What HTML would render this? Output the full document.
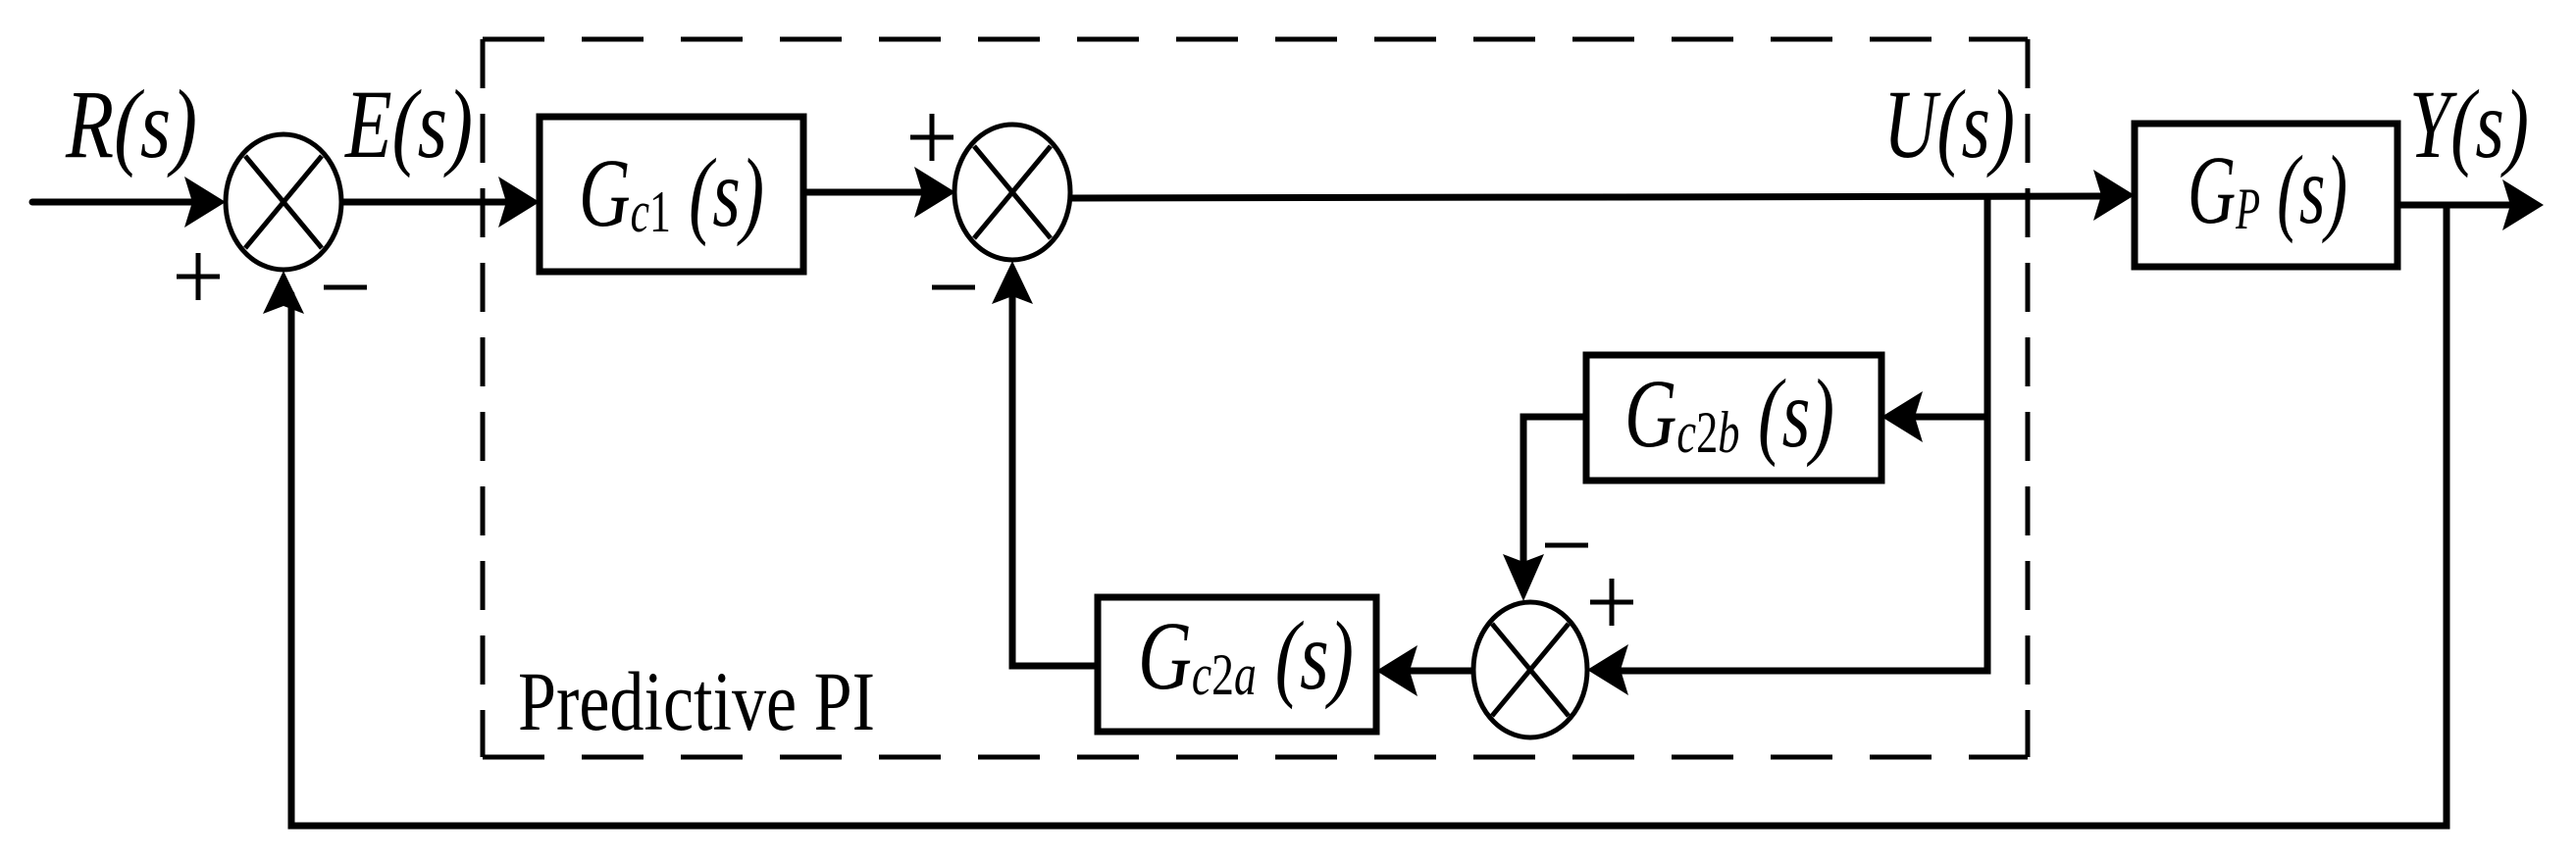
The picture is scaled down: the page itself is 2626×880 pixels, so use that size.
<!DOCTYPE html>
<html><head><meta charset="utf-8"><style>
html,body{margin:0;padding:0;background:#fff;}
svg{display:block;}
text{font-family:"Liberation Serif",serif;}
</style></head><body>
<svg width="2626" height="880" viewBox="0 0 2626 880" xmlns="http://www.w3.org/2000/svg">
<rect width="2626" height="880" fill="#fff"/>
<!-- dashed box -->
<g stroke="#000" stroke-width="5" fill="none">
<line x1="492" y1="40" x2="2067" y2="40" stroke-dasharray="63 38"/>
<line x1="492" y1="772" x2="2067" y2="772" stroke-dasharray="63 38"/>
<line x1="492" y1="40" x2="492" y2="772" stroke-dasharray="50 26"/>
<line x1="2067" y1="40" x2="2067" y2="772" stroke-dasharray="50 26"/>
</g>
<!-- lines -->
<g stroke="#000" stroke-width="7" fill="none" stroke-linecap="round" stroke-linejoin="miter">
<line x1="33" y1="206" x2="200" y2="206"/>
<line x1="348" y1="206" x2="520" y2="206"/>
<line x1="819" y1="196" x2="945" y2="196"/>
<line x1="1090" y1="202" x2="2150" y2="200"/>
<line x1="2444" y1="209" x2="2565" y2="209"/>
<polyline points="2494,209 2494,842 297,842 297,300"/>
<polyline points="2026,202 2026,684 1645,684"/>
<line x1="2026" y1="425" x2="1945" y2="425"/>
<polyline points="1617,425 1553,425 1553,590"/>
<line x1="1502" y1="684" x2="1430" y2="684"/>
<polyline points="1119,679 1032,679 1032,290"/>
</g>
<!-- boxes -->
<g stroke="#000" stroke-width="7" fill="#fff">
<rect x="550" y="119" width="269" height="158"/>
<rect x="2176" y="126" width="268" height="146"/>
<rect x="1617" y="362" width="301" height="128"/>
<rect x="1119" y="609" width="284" height="137"/>
</g>
<!-- summing junctions -->
<g stroke="#000" stroke-width="5" fill="#fff">
<ellipse cx="289" cy="206" rx="59" ry="69"/>
<ellipse cx="1032" cy="196" rx="59" ry="69"/>
<ellipse cx="1560" cy="683" rx="58" ry="69"/>
</g>
<g stroke="#000" stroke-width="5">
<line x1="250" y1="159" x2="328" y2="253"/><line x1="328" y1="159" x2="250" y2="253"/>
<line x1="993" y1="149" x2="1071" y2="243"/><line x1="1071" y1="149" x2="993" y2="243"/>
<line x1="1521" y1="636" x2="1599" y2="730"/><line x1="1599" y1="636" x2="1521" y2="730"/>
</g>
<!-- arrowheads -->
<g fill="#000">
<polygon points="230,206 188,180 196,206 188,232"/>
<polygon points="550,206 508,180 516,206 508,232"/>
<polygon points="974,196 932,170 940,196 932,222"/>
<polygon points="2176,199 2134,173 2142,199 2134,225"/>
<polygon points="2593,209 2551,183 2559,209 2551,235"/>
<polygon points="1918,425 1960,399 1952,425 1960,451"/>
<polygon points="1618,683 1660,657 1652,683 1660,709"/>
<polygon points="1403,684 1445,658 1437,684 1445,710"/>
<polygon points="289,276 268,320 289,312 310,320"/>
<polygon points="1032,266 1011,310 1032,302 1053,310"/>
<polygon points="1553,613 1532,565 1553,573 1574,565"/>
</g>
<!-- plus/minus -->
<g stroke="#000" stroke-width="5">
<line x1="180" y1="282" x2="224" y2="282"/><line x1="202" y1="258" x2="202" y2="306"/>
<line x1="330" y1="293" x2="374" y2="293"/>
<line x1="928" y1="140" x2="972" y2="140"/><line x1="950" y1="116" x2="950" y2="164"/>
<line x1="950" y1="293" x2="994" y2="293"/>
<line x1="1575" y1="556" x2="1619" y2="556"/>
<line x1="1621" y1="614" x2="1665" y2="614"/><line x1="1643" y1="590" x2="1643" y2="638"/>
</g>
<!-- labels -->
<g font-style="italic" fill="#000" font-size="100">
<text x="67" y="160" textLength="134" lengthAdjust="spacingAndGlyphs">R(s)</text>
<text x="352" y="160" textLength="130" lengthAdjust="spacingAndGlyphs">E(s)</text>
<text x="1920" y="160" textLength="134" lengthAdjust="spacingAndGlyphs">U(s)</text>
<text x="2456" y="160" textLength="122" lengthAdjust="spacingAndGlyphs">Y(s)</text>
<text x="590" y="230" textLength="189" lengthAdjust="spacingAndGlyphs">G<tspan font-size="60" dy="6">c</tspan><tspan font-size="60" font-style="normal">1</tspan><tspan dy="-6"> (s)</tspan></text>
<text x="2230" y="227" textLength="163" lengthAdjust="spacingAndGlyphs">G<tspan font-size="60" dy="6">P</tspan><tspan dy="-6"> (s)</tspan></text>
<text x="1656" y="455" textLength="214" lengthAdjust="spacingAndGlyphs">G<tspan font-size="60" dy="6">c</tspan><tspan font-size="60" font-style="normal">2</tspan><tspan font-size="60">b</tspan><tspan dy="-6"> (s)</tspan></text>
<text x="1160" y="702" textLength="220" lengthAdjust="spacingAndGlyphs">G<tspan font-size="60" dy="6">c</tspan><tspan font-size="60" font-style="normal">2</tspan><tspan font-size="60">a</tspan><tspan dy="-6"> (s)</tspan></text>
</g>
<text x="528" y="744" font-size="86" fill="#000" textLength="364" lengthAdjust="spacingAndGlyphs">Predictive PI</text>
</svg>
</body></html>
